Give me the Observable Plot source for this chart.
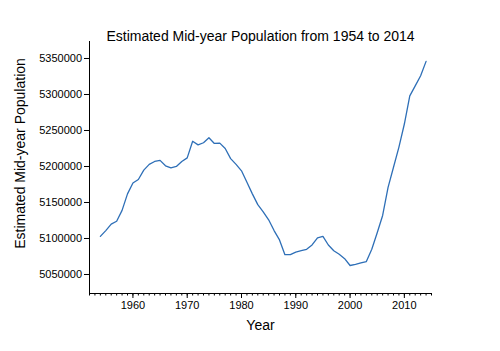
<!DOCTYPE html>
<html><head><meta charset="utf-8">
<script src="https://cdn.jsdelivr.net/npm/d3@7"></script>
<script src="https://cdn.jsdelivr.net/npm/@observablehq/plot@0.6"></script>
<style>body{margin:0;background:#fff;} #chart svg{font-family:"Liberation Sans",Arial,sans-serif;}</style>
</head><body><div id="chart"></div>
<script>
const years = [1954,1955,1956,1957,1958,1959,1960,1961,1962,1963,1964,1965,1966,1967,1968,1969,1970,1971,1972,1973,1974,1975,1976,1977,1978,1979,1980,1981,1982,1983,1984,1985,1986,1987,1988,1989,1990,1991,1992,1993,1994,1995,1996,1997,1998,1999,2000,2001,2002,2003,2004,2005,2006,2007,2008,2009,2010,2011,2012,2013,2014];
const population = [5103000,5111000,5120000,5124000,5139000,5162000,5177000,5182000,5195000,5203000,5207000,5208500,5201000,5198000,5200000,5207000,5212000,5235000,5230000,5233000,5240000,5232000,5232500,5225000,5211000,5203000,5194000,5178000,5162000,5147000,5137000,5126000,5111000,5098000,5077500,5077500,5081000,5083000,5085000,5091000,5101000,5103000,5091000,5083000,5078000,5072000,5062500,5064000,5066000,5068000,5085000,5108000,5132000,5171000,5199000,5227000,5259000,5298000,5312000,5326000,5346000];
const xMajorTicks = [1960,1970,1980,1990,2000,2010];
const yTicks = [5050000,5100000,5150000,5200000,5250000,5300000,5350000];
const title = "Estimated Mid-year Population from 1954 to 2014";
const xLabel = "Year";
const yLabel = "Estimated Mid-year Population";
const xDomain = [1952, 2015];
const yDomain = [5023600, 5373600];

const data = years.map((year, i) => ({year, population: population[i]}));
const minorTicks = d3.range(xDomain[0], xDomain[1] + 1);

const plot = Plot.plot({
  width: 500, height: 351,
  marginLeft: 89, marginRight: 69, marginTop: 41, marginBottom: 58,
  style: {fontFamily: '"Liberation Sans", Arial, sans-serif', fontSize: "11px", color: "#000", background: "#fff"},
  x: {domain: xDomain},
  y: {domain: yDomain},
  marks: [
    Plot.ruleX([xDomain[0]], {stroke: "#000", strokeWidth: 1}),
    Plot.ruleY([yDomain[0]], {stroke: "#000", strokeWidth: 1}),
    Plot.axisX(minorTicks, {tickSize: 2.5, tickFormat: () => "", label: null}),
    Plot.axisX(xMajorTicks, {tickSize: 5, tickPadding: 3, tickFormat: d => String(d), label: null, fontSize: 11}),
    Plot.axisY(yTicks, {tickSize: 5, tickPadding: 2.5, tickFormat: d3.format("d"), label: null, fontSize: 11}),
    Plot.line(data, {x: "year", y: "population", stroke: "#2e6fb7", strokeWidth: 1.3}),
    Plot.text([title], {frameAnchor: "top", dy: -10, fontSize: 14, fill: "#000"}),
    Plot.text([xLabel], {frameAnchor: "bottom", dy: 36, fontSize: 14, fill: "#000"}),
    Plot.text([yLabel], {frameAnchor: "left", textAnchor: "middle", dx: -69, dy: -14, rotate: -90, fontSize: 14, fill: "#000"})
  ]
});
document.getElementById("chart").appendChild(plot);
</script>
</body></html>
